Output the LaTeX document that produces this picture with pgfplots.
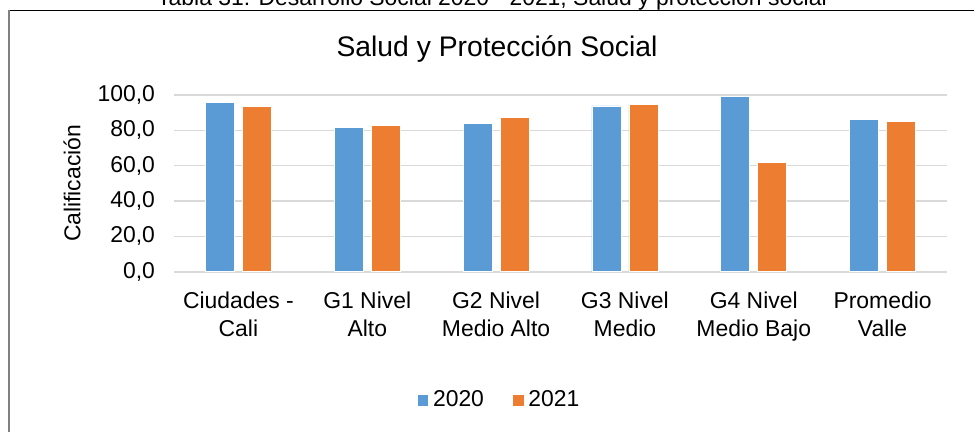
\documentclass[border=0pt]{standalone}
\usepackage{pgfplots}
\pgfplotsset{compat=1.18}
\usepackage{pgfplotstable}
\usepackage{fontspec}
\setmainfont{Liberation Sans}

\definecolor{azul}{HTML}{5B9BD5}
\definecolor{naranja}{HTML}{ED7D31}
\definecolor{rejilla}{HTML}{D9D9D9}

% Salud y proteccion social, calificacion por grupo
\pgfplotstableread{
x a2020 a2021
0 96.0 93.7
1 81.5 82.6
2 84.0 87.5
3 93.8 94.7
4 99.4 61.9
5 86.0 84.9
}\datos

\begin{document}
\begin{tikzpicture}
\useasboundingbox (0,0) rectangle (487bp,216bp);
\clip (0,0) rectangle (487bp,216bp);

% titulo de la tabla (cortado arriba)
\node[anchor=base, font=\fontsize{11.5}{13}\selectfont, inner sep=0pt] at (246bp,213.3bp)
  {Tabla 31: Desarrollo Social 2020 - 2021; Salud y protección social};
\draw[black, line width=0.6bp] (4bp,210.8bp) -- (487bp,210.8bp);
\draw[gray, line width=0.9bp] (4.3bp,210.8bp) -- (4.3bp,0bp);

\node[anchor=base, font=\fontsize{14.2}{16}\selectfont] at (248.5bp,187.6bp) {Salud y Protección Social};
\node[rotate=90, font=\fontsize{11.5}{13}\selectfont] at (36bp,124.3bp) {Calificación};

\begin{axis}[
    at={(87bp,80.15bp)}, anchor=south west,
    scale only axis,
    width=386.5bp, height=88.35bp,
    ybar=4bp, bar width=14.5bp,
    xmin=-0.5, xmax=5.5,
    ymin=0, ymax=100,
    enlargelimits=false,
    xtick=data,
    xticklabels={{Ciudades -\\Cali},{G1 Nivel\\Alto},{G2 Nivel\\Medio Alto},{G3 Nivel\\Medio},{G4 Nivel\\Medio Bajo},{Promedio\\Valle}},
    ytick={0,20,...,100},
    ymajorgrids,
    major grid style={rejilla, line width=0.8bp},
    axis line style={draw=none},
    major tick length=0pt,
    /pgf/number format/assume math mode=true,
    tick label style={font=\fontsize{11.5}{13}\selectfont},
    xticklabel style={align=center, font=\fontsize{11.5}{14}\selectfont},
    xticklabel shift=6.5bp,
    yticklabel shift=6bp,
    yticklabel style={/pgf/number format/.cd, fixed, fixed zerofill, precision=1, use comma},
    legend style={at={(0.4217,-0.7284)}, anchor=center, draw=none,
        font=\fontsize{11.5}{13}\selectfont,
        /tikz/every even column/.append style={column sep=12bp}},
    legend columns=-1,
    legend image code/.code={\fill[#1] (0bp,-2.9bp) rectangle (5.8bp,2.9bp);},
]
\addplot[fill=azul, draw=white, line width=0.4bp] table[x=x, y=a2020] {\datos};
\addplot[fill=naranja, draw=white, line width=0.4bp] table[x=x, y=a2021] {\datos};
\legend{2020,2021}
\end{axis}
\end{tikzpicture}
\end{document}
